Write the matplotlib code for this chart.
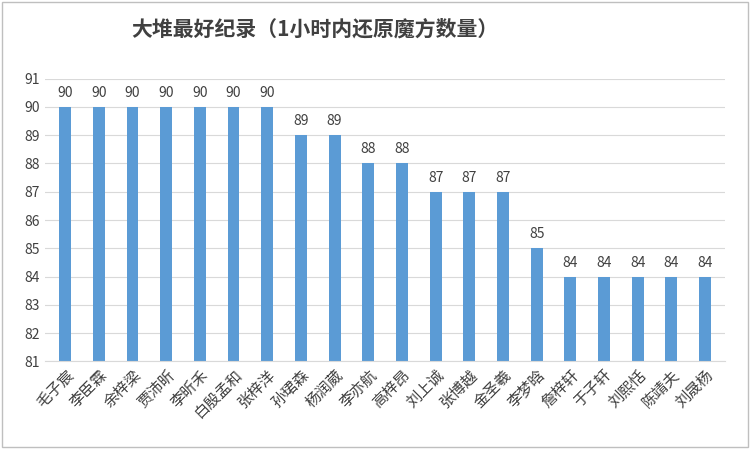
import matplotlib
matplotlib.use("Agg")
import matplotlib.pyplot as plt
from matplotlib.patches import Rectangle

plt.rcParams['font.family'] = ['Noto Sans CJK SC', 'DejaVu Sans']

names = ["毛子宸","李臣霖","余梓梁","贾沛昕","李昕禾","白殷孟和","张梓洋","孙珺森","杨润葳","李亦航",
         "高梓昂","刘上诚","张博越","金圣羲","李梦晗","詹梓轩","于子轩","刘熙恬","陈靖夫","刘晟杨"]
values = [90,90,90,90,90,90,90,89,89,88,88,87,87,87,85,84,84,84,84,84]
yticks = list(range(81, 92))

fig = plt.figure(figsize=(7.5, 4.49), dpi=100)
ax = fig.add_axes([0.06, 0.195, 0.907, 0.63])
x = range(len(names))
bars = ax.bar(x, [v - 81 for v in values], bottom=81, width=0.35, color='#5B9BD5')
for i, v in enumerate(values):
    ax.text(i, v + 0.25, str(v), ha='center', va='bottom', fontsize=10, color='#404040')
ax.set_ylim(81, 91)
ax.set_xlim(-0.6, len(names) - 0.4)
ax.set_yticks(yticks)
ax.tick_params(axis='y', length=0, labelsize=10, labelcolor='#404040')
ax.tick_params(axis='x', length=0)
ax.set_xticks(list(x))
ax.set_xticklabels(names, rotation=45, ha='right', rotation_mode='anchor', fontsize=11, color='#404040')
ax.grid(axis='y', color='#D9D9D9', linewidth=0.8)
ax.set_axisbelow(True)
for s in ['top', 'right', 'left']:
    ax.spines[s].set_visible(False)
ax.spines['bottom'].set_color('#D9D9D9')
fig.text(0.42, 0.935, "大堆最好纪录（1小时内还原魔方数量）", ha='center', va='center',
         fontsize=15, fontweight='bold', color='#404040')
fig.patches.append(Rectangle((0.003, 0.004), 0.994, 0.992, transform=fig.transFigure,
                             fill=False, edgecolor='#BFBFBF', linewidth=1))
fig.savefig("out.png", dpi=100)
